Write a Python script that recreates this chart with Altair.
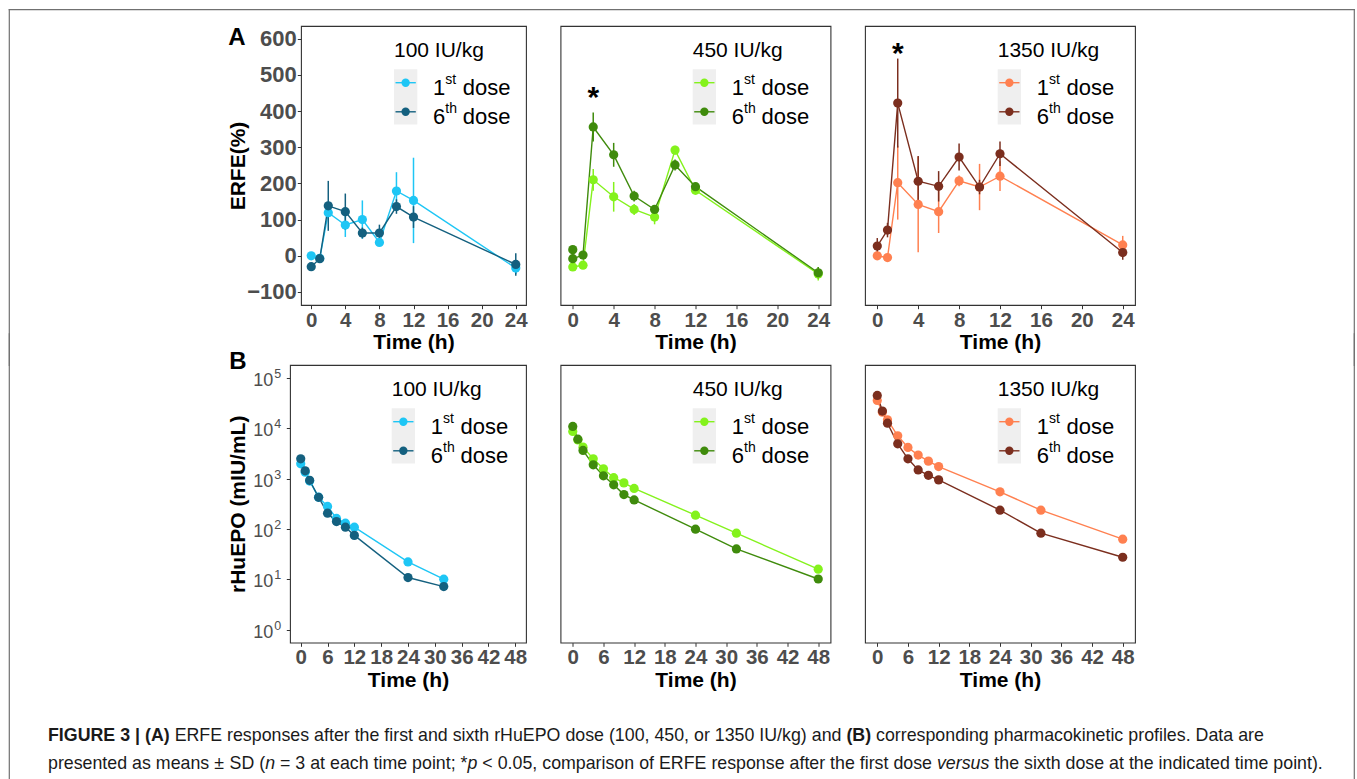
import altair as alt
import pandas as pd

FONT = "Liberation Sans"
GRAY = "#4D4D4D"
FRAME = "#707070"

# ---------------- data: ERFE (%) (panel A) ----------------
erfe_time = [0, 1, 2, 4, 6, 8, 10, 12, 24]
erfe_100_1st = [0, -7, 119, 85, 100, 37, 179, 153, -34]
erfe_100_1st_sd = [8, 6, 15, 33, 53, 8, 52, 118, 16]
erfe_100_6th = [-30, -8, 138, 122, 63, 63, 136, 107, -24]
erfe_100_6th_sd = [10, 5, 69, 50, 15, 23, 20, 30, 31]

erfe_450_1st = [-31, -26, 210, 163, 128, 107, 292, 181, -50]
erfe_450_1st_sd = [8, 6, 30, 41, 15, 20, 12, 10, 18]
erfe_450_6th_time = [0, 0, 1, 2, 4, 6, 8, 10, 12, 24]
erfe_450_6th = [17, -8, 2, 356, 279, 165, 128, 251, 191, -47]
erfe_450_6th_sd = [8, 8, 6, 40, 33, 15, 10, 15, 8, 16]

erfe_1350_1st = [0, -5, 202, 142, 122, 207, 190, 220, 30]
erfe_1350_1st_sd = [8, 5, 102, 132, 59, 15, 64, 41, 25]
erfe_1350_6th = [27, 71, 422, 206, 192, 273, 190, 282, 9]
erfe_1350_6th_sd = [22, 20, 123, 70, 42, 37, 20, 34, 20]

# significance markers (time, anchor value)
star_450 = [2, 436]
star_1350 = [2, 557]

# ---------------- data: rHuEPO (mIU/mL) (panel B) ----------------
pk_time = [0, 1, 2, 4, 6, 8, 10, 12, 24, 32, 48]
pk_100_1st = [1977, 1350, 900, 430, 282, 163, 131, 109, 22.3, 10.1]
pk_100_6th = [2490, 1435, 933, 428, 207, 141, 109, 75, 10.9, 7.2]
pk_450_1st = [8700, 5900, 4250, 2490, 1573, 1050, 828, 641, 189, 82.8, 16]
pk_450_6th = [10960, 6120, 3650, 1890, 1142, 757, 485, 380, 99.6, 40.4, 10.2]
pk_1350_1st = [36000, 21000, 14800, 7130, 4190, 2950, 2240, 1750, 550, 238, 63]
pk_1350_6th = [45300, 22100, 12700, 4940, 2490, 1500, 1170, 950, 238, 83, 27.6]

erfe_ticks_y = [-100, 0, 100, 200, 300, 400, 500, 600]
erfe_ticks_x = [0, 4, 8, 12, 16, 20, 24]
pk_ticks_y = [1, 10, 100, 1000, 10000, 100000]
pk_exponents = ["0", "1", "2", "3", "4", "5"]
pk_ticks_x = [0, 6, 12, 18, 24, 30, 36, 42, 48]

dose_titles = ["100 IU/kg", "450 IU/kg", "1350 IU/kg"]
colors = {
    "100": ("#1EC6F5", "#14607F"),
    "450": ("#84F21C", "#3F8B0C"),
    "1350": ("#FF8050", "#7B2E1E"),
}

caption_line1 = [
    ("FIGURE 3 | (A)", "bold"),
    (" ERFE responses after the first and sixth rHuEPO dose (100, 450, or 1350 IU/kg) and ", "normal"),
    ("(B)", "bold"),
    (" corresponding pharmacokinetic profiles. Data are", "normal"),
]
caption_line2 = [
    ("presented as means \u00b1 SD (", "normal"),
    ("n", "italic"),
    (" = 3 at each time point; *", "normal"),
    ("p", "italic"),
    (" < 0.05, comparison of ERFE response after the first dose ", "normal"),
    ("versus", "italic"),
    (" the sixth dose at the indicated time point).", "normal"),
]

# Arial-compatible advance widths (per 1000 em) for laying out the caption runs
W_REG = {' ': 278, '(': 333, ')': 333, '*': 389, ',': 278, '-': 333, '.': 278, '/': 278,
         ':': 278, ';': 278, '<': 584, '=': 584, '>': 584, '\u00b1': 584, '|': 260}
for ch in "0123456789":
    W_REG[ch] = 556
W_REG.update({'A': 667, 'B': 667, 'C': 722, 'D': 722, 'E': 667, 'F': 611, 'G': 778, 'H': 722,
              'I': 278, 'J': 500, 'K': 667, 'L': 556, 'M': 833, 'N': 722, 'O': 778, 'P': 667,
              'Q': 778, 'R': 722, 'S': 667, 'T': 611, 'U': 722, 'V': 667, 'W': 944, 'X': 667,
              'Y': 667, 'Z': 611,
              'a': 556, 'b': 556, 'c': 500, 'd': 556, 'e': 556, 'f': 278, 'g': 556, 'h': 556,
              'i': 222, 'j': 222, 'k': 500, 'l': 222, 'm': 833, 'n': 556, 'o': 556, 'p': 556,
              'q': 556, 'r': 333, 's': 500, 't': 278, 'u': 556, 'v': 500, 'w': 722, 'x': 500,
              'y': 500, 'z': 500})
W_BOLD = dict(W_REG)
W_BOLD.update({'A': 722, 'B': 722, 'E': 667, 'F': 611, 'G': 778, 'I': 278, 'R': 722, 'U': 722,
               '|': 280})

ONE = pd.DataFrame({"k": [0]})


def make_df(t1, m1, s1, t6, m6, s6):
    rows = []
    for lab, ts, ms, ss in (("1st", t1, m1, s1), ("6th", t6, m6, s6)):
        for i, (t, m) in enumerate(zip(ts, ms)):
            s = ss[i] if ss else 0
            rows.append({"time": t, "value": m, "lo": m - s, "hi": m + s, "dose": lab})
    return pd.DataFrame(rows)


def txt(s, x, y, size, weight="normal", align="left", baseline="alphabetic",
        color="black", style="normal"):
    return alt.Chart(ONE).mark_text(
        text=s, font=FONT, fontSize=size, fontWeight=weight, fontStyle=style,
        align=align, baseline=baseline, color=color
    ).encode(x=alt.value(x), y=alt.value(y))


def rule(x, y, x2=None, y2=None, color=FRAME, sw=1.2):
    enc = {"x": alt.value(x), "y": alt.value(y)}
    if x2 is not None:
        enc["x2"] = alt.value(x2)
    if y2 is not None:
        enc["y2"] = alt.value(y2)
    return alt.Chart(ONE).mark_rule(color=color, strokeWidth=sw).encode(**enc)


def bar(x1, x2, y1, y2, color=FRAME):
    # filled (unstroked) rectangle used for the thin outer frame lines
    return alt.Chart(ONE).mark_rect(color=color, strokeWidth=0).encode(
        x=alt.value(x1), x2=alt.value(x2), y=alt.value(y1), y2=alt.value(y2))


def legend_layers(bx, title, c1, c6):
    L = [alt.Chart(ONE).mark_rect(color="#EFEFEF").encode(
        x=alt.value(bx), x2=alt.value(bx + 23.3), y=alt.value(43.3), y2=alt.value(98.5))]
    for c, py in ((c1, 56.7), (c6, 85.8)):
        L.append(rule(bx + 1.5, py, x2=bx + 21.8, color=c, sw=1.4))
        L.append(alt.Chart(ONE).mark_circle(color=c, size=70, opacity=1).encode(
            x=alt.value(bx + 11.65), y=alt.value(py)))
    L.append(txt(title, bx, 25, 21, baseline="middle"))
    for num, sup, py in (("1", "st", 69.2), ("6", "th", 97.8)):
        L.append(txt(num, bx + 39, py, 22))
        L.append(txt(sup, bx + 51.3, py - 10.8, 14))
        L.append(txt("dose", bx + 68.8, py, 22))
    return L


def x_axis(ticks):
    return alt.Axis(values=ticks, title="Time (h)", titleY=37.6, titleBaseline="middle",
                    titleFontSize=21, titleFontWeight="bold", titleColor="black", titleFont=FONT,
                    labelFontSize=20.5, labelFontWeight="bold", labelColor=GRAY, labelFont=FONT,
                    labelPadding=1.5, labelFlush=False, labelOverlap=False, format="d",
                    tickSize=3.7, tickColor="#333333", tickWidth=1, domain=False, grid=False)


def panel(df, xdom, xticks, yscale, yaxis, c1, c6, w, h, errorbars, title, bx, extras):
    cs = alt.Scale(domain=["1st", "6th"], range=[c1, c6])
    X = alt.X("time:Q", scale=alt.Scale(domain=xdom, nice=False, zero=False), axis=x_axis(xticks))
    Y = alt.Y("value:Q", scale=yscale, axis=yaxis)
    C = alt.Color("dose:N", scale=cs, legend=None)
    base = alt.Chart(df)
    layers = [base.mark_line(strokeWidth=1.4).encode(x=X, y=Y, color=C)]
    if errorbars:
        layers.append(base.mark_rule(strokeWidth=1.5).encode(
            x=X, y=alt.Y("lo:Q", scale=yscale, axis=yaxis), y2="hi:Q", color=C))
    layers.append(base.mark_circle(size=85, opacity=1).encode(x=X, y=Y, color=C))
    layers += legend_layers(bx, title, c1, c6)
    layers += extras(X, Y)
    return alt.layer(*layers).properties(width=w, height=h)


def star(X, Y, tv):
    d = pd.DataFrame({"time": [tv[0]], "value": [tv[1]]})
    return alt.Chart(d).mark_text(text="*", font=FONT, fontSize=30, fontWeight="bold",
                                  baseline="middle", color="black").encode(x=X, y=Y)


def caption_layers(segs, x0, y, size):
    # one text mark per styled word, advanced with Arial-compatible widths
    words = []
    for s, style in segs:
        parts = s.split(" ")
        for j, p in enumerate(parts):
            if p:
                words.append([p, style, False])
            if j < len(parts) - 1:
                words.append([" ", style, True])
    clean = []
    for w in words:
        if w[2] and clean and clean[-1][2]:
            continue
        clean.append(w)
    while clean and clean[0][2]:
        clean.pop(0)

    def width(wd, style):
        table = W_BOLD if style == "bold" else W_REG
        return sum(table.get(ch, 556) for ch in wd) / 1000 * size

    out = []
    x = x0
    for wd, style, is_space in clean:
        if is_space:
            x += width(" ", style)
            continue
        out.append(txt(wd, x, y, size,
                       weight="bold" if style == "bold" else "normal",
                       style="italic" if style == "italic" else "normal",
                       color="#1A1A1A"))
        x += width(wd, style)
    return out


# ---------------- layout constants (px) ----------------
WA1, WO, HA = 225, 270, 279
WB1, HB = 236, 277.6
GAP = 34.5
X_A = [-1.2, 25.2]
X_B = [-2.4, 50.4]
YS_A = alt.Scale(domain=[-136, 635], nice=False, zero=False)
YS_B = alt.Scale(type="log", domain=[10 ** -0.255, 10 ** 5.26], nice=False)

yaxis_A = alt.Axis(values=erfe_ticks_y, title="ERFE(%)", titleX=-62.7, titleY=HA / 2,
                   titleBaseline="middle", titleAlign="center", titleAngle=270,
                   titleFontSize=21, titleFontWeight="bold", titleColor="black", titleFont=FONT,
                   labelFontSize=22, labelFontWeight="bold", labelColor=GRAY, labelFont=FONT,
                   labelPadding=1, labelOverlap=False, labelFlush=False,
                   tickSize=3.7, tickColor="#333333", tickWidth=1, domain=False, grid=False)
yaxis_B = alt.Axis(values=pk_ticks_y, labels=False, title="rHuEPO (mIU/mL)", titleX=-52,
                   titleY=HB / 2, titleBaseline="middle", titleAlign="center", titleAngle=270,
                   titleFontSize=21, titleFontWeight="bold", titleColor="black", titleFont=FONT,
                   tickSize=3.7, tickColor="#333333", tickWidth=1, domain=False, grid=False)

# ---------------- row A ----------------
dfA1 = make_df(erfe_time, erfe_100_1st, erfe_100_1st_sd, erfe_time, erfe_100_6th, erfe_100_6th_sd)
dfA2 = make_df(erfe_time, erfe_450_1st, erfe_450_1st_sd, erfe_450_6th_time, erfe_450_6th, erfe_450_6th_sd)
dfA3 = make_df(erfe_time, erfe_1350_1st, erfe_1350_1st_sd, erfe_time, erfe_1350_6th, erfe_1350_6th_sd)

# A1 origin = abs (301, 25); A3 origin = abs 865
A1 = panel(dfA1, X_A, erfe_ticks_x, YS_A, yaxis_A, *colors["100"], WA1, HA, True, dose_titles[0], 93.0,
           lambda X, Y: [
               txt("A", -64, 12, 24, weight="bold", align="center", baseline="middle"),
               bar(-292.3, 1053.9, -16.9, -15.7),
               bar(-292.3, -291.1, -16.9, 340),
           ])
A2 = panel(dfA2, X_A, erfe_ticks_x, YS_A, None, *colors["450"], WO, HA, True, dose_titles[1], 132.2,
           lambda X, Y: [star(X, Y, star_450)])
A3 = panel(dfA3, X_A, erfe_ticks_x, YS_A, None, *colors["1350"], WO, HA, True, dose_titles[2], 132.7,
           lambda X, Y: [star(X, Y, star_1350), bar(488.7, 489.9, -16.9, 340)])

# ---------------- row B ----------------
dfB1 = make_df(pk_time, pk_100_1st, None, pk_time, pk_100_6th, None)
dfB2 = make_df(pk_time, pk_450_1st, None, pk_time, pk_450_6th, None)
dfB3 = make_df(pk_time, pk_1350_1st, None, pk_time, pk_1350_6th, None)
ticks_df = pd.DataFrame({"value": pk_ticks_y, "exp": pk_exponents})

CAP_SIZE = 17.8


def b1_extras(X, Y):
    tick_chart = alt.Chart(ticks_df)
    L = [
        tick_chart.mark_text(text="10", font=FONT, fontSize=18, align="right", baseline="middle",
                             color=GRAY, dy=3).encode(x=alt.value(-16.8), y=Y),
        tick_chart.mark_text(font=FONT, fontSize=12.5, align="left", baseline="middle",
                             color=GRAY, dy=-4).encode(x=alt.value(-15.8), y=Y, text="exp:N"),
        txt("B", -52, -3.4, 24, weight="bold", align="center", baseline="middle"),
        bar(-281.3, -280.1, -31.7, 416.3),
    ]
    L += caption_layers(caption_line1, 48 - 290, 738 - 362, CAP_SIZE)
    L += caption_layers(caption_line2, 48 - 290, 765.5 - 362, CAP_SIZE)
    return L


# B1 origin = abs (290, 362); B3 origin = abs 865
B1 = panel(dfB1, X_B, pk_ticks_x, YS_B, yaxis_B, *colors["100"], WB1, HB, False, dose_titles[0], 101.7,
           b1_extras)
B2 = panel(dfB2, X_B, pk_ticks_x, YS_B, None, *colors["450"], WO, HB, False, dose_titles[1], 132.2,
           lambda X, Y: [])
B3 = panel(dfB3, X_B, pk_ticks_x, YS_B, None, *colors["1350"], WO, HB, False, dose_titles[2], 132.7,
           lambda X, Y: [bar(488.7, 489.9, -31.7, 416.3)])

# invisible spacer shifting row A's panels 11 px right of row B's
spacer = alt.Chart(ONE).mark_point(opacity=0).encode(
    x=alt.value(0), y=alt.value(0)
).properties(width=11, height=10, view=alt.ViewBackground(stroke="transparent", fill="white"))

rowA_panels = alt.hconcat(A1, A2, A3, spacing=GAP, bounds="flush").resolve_scale(color="independent")
rowA = alt.hconcat(spacer, rowA_panels, spacing=0, bounds="flush").resolve_scale(color="independent")
rowB = alt.hconcat(B1, B2, B3, spacing=GAP, bounds="flush").resolve_scale(color="independent")

chart = alt.concat(rowA, rowB, columns=1, align="none", bounds="full", spacing=-35).resolve_scale(
    color="independent"
).properties(
    padding={"left": 8.0, "top": 8.0, "right": 0, "bottom": 0},
    background="white",
).configure_view(stroke="#333333", strokeWidth=1.1, fill="white")

chart.save("out.html", embed_options={"renderer": "svg", "actions": False})
